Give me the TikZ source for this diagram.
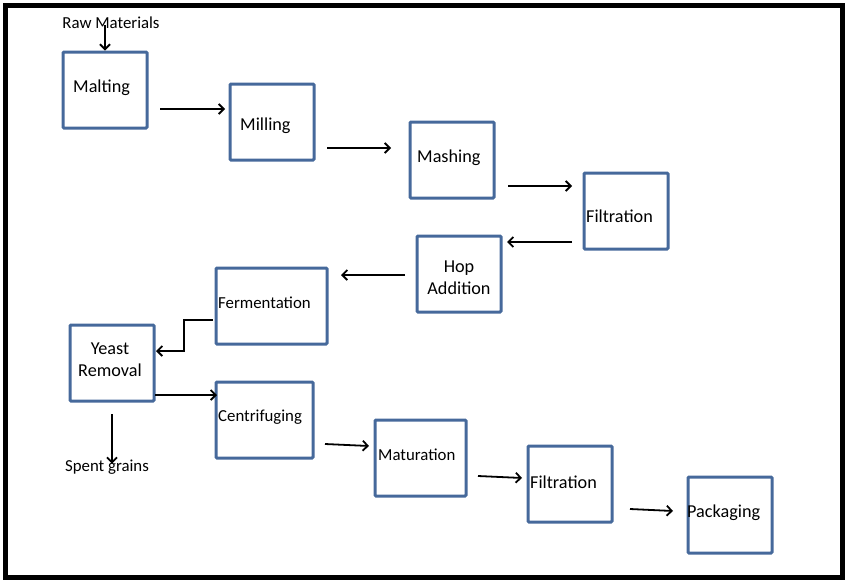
\documentclass[tikz,border=0pt]{standalone}
\usepackage{fontspec}
\setmainfont{Carlito}
\usepackage{xcolor}
\usetikzlibrary{arrows.meta}
\definecolor{boxblue}{RGB}{70,105,155}

\begin{document}
\begin{tikzpicture}[x=1pt,y=-1pt,
    stepbox/.style={draw=boxblue, line width=3pt, rounded corners=1pt, minimum width=84pt, minimum height=76pt, inner sep=0pt},
    steptext/.style={font=\fontsize{18.2}{21}\selectfont, inner sep=0pt, anchor=west},
    smalltext/.style={font=\fontsize{16.8}{19}\selectfont, inner sep=0pt},
    flow/.style={-{Straight Barb[length=5pt,width=10pt]}, line width=1.8pt}]
  \useasboundingbox (0,0) rectangle (846,581);
  \draw[line width=4.5pt] (5.5,5.5) rectangle (842.5,577.5);

  % boxes
  \node[stepbox] (malt) at (105,90) {};
  \node[stepbox] (mill) at (272,122) {};
  \node[stepbox] (mash) at (452,160) {};
  \node[stepbox] (filt) at (626,211) {};
  \node[stepbox] (hop) at (459,274) {};
  \node[stepbox, minimum width=111pt] (ferm) at (271.5,306) {};
  \node[stepbox] (yeast) at (112,363) {};
  \node[stepbox, minimum width=97pt] (cent) at (264.5,420) {};
  \node[stepbox, minimum width=91pt] (matu) at (420.5,458) {};
  \node[stepbox] (filtb) at (570,484) {};
  \node[stepbox] (pack) at (730,515) {};

  % texts
  \node[steptext] (maltT) at (73,88) {Malting};
  \node[steptext] (millT) at (240,126) {Milling};
  \node[steptext] (mashT) at (417,158) {Mashing};
  \node[steptext] (filtT) at (586,216) {Filtration};
  \node[steptext, anchor=center, align=center] (hopT) at (459,278) {Hop\\[1pt]Addition};
  \node[smalltext, anchor=west] (fermT) at (218,303) {Fermentation};
  \node[steptext, anchor=center, align=center] (yeastT) at (110,360) {Yeast\\[1pt]Removal};
  \node[smalltext, anchor=west] (centT) at (218,417) {Centrifuging};
  \node[smalltext, anchor=west] (matuT) at (378,455) {Maturation};
  \node[steptext] (filtbT) at (530,482) {Filtration};
  \node[steptext] (packT) at (687,513) {Packaging};
  \node[smalltext] (raw) at (111,23) {Raw Materials};
  \node[smalltext] (spent) at (107,467) {Spent grains};

  % arrows
  \coordinate (a1) at (160,109); \coordinate (b1) at (225,109);
  \coordinate (a2) at (327,148); \coordinate (b2) at (391,148);
  \coordinate (a3) at (508,186); \coordinate (b3) at (572,186);
  \coordinate (a4) at (572,242); \coordinate (b4) at (507,242);
  \coordinate (a5) at (405,275); \coordinate (b5) at (341,275);
  \coordinate (a6) at (325,444); \coordinate (b6) at (369,446);
  \coordinate (a7) at (478,476); \coordinate (b7) at (522,478);
  \coordinate (a8) at (630,509); \coordinate (b8) at (673,511);
  \coordinate (e1) at (213,320); \coordinate (e2) at (156,351);
  \coordinate (y1) at (155,395); \coordinate (y2) at (217,395);
  \coordinate (s1) at (112,414);
  \coordinate (r1) at (105,25);

  \draw[flow] (r1) -- (malt.north);
  \draw[flow] (a1) -- (b1);
  \draw[flow] (a2) -- (b2);
  \draw[flow] (a3) -- (b3);
  \draw[flow] (a4) -- (b4);
  \draw[flow] (a5) -- (b5);
  \draw[flow] (e1) -- (184,320) |- (e2);
  \draw[flow] (y1) -- (y2);
  \draw[flow] (s1) -- ([yshift=-4pt]spent.north -| s1);
  \draw[flow] (a6) -- (b6);
  \draw[flow] (a7) -- (b7);
  \draw[flow] (a8) -- (b8);
\end{tikzpicture}
\end{document}
